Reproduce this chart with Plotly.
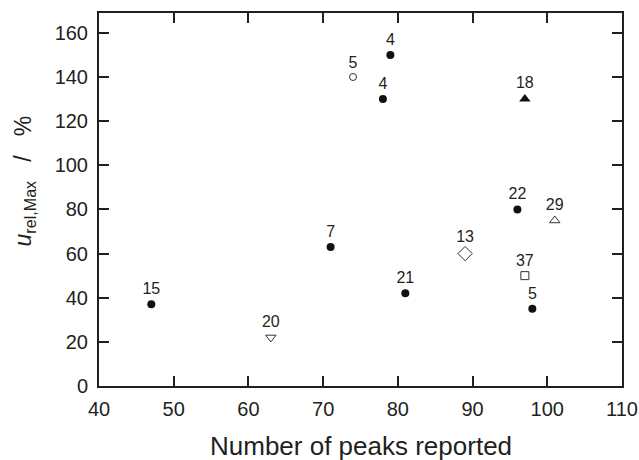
import plotly.graph_objects as go

# Data
filled_circle_x = [47, 71, 78, 79, 81, 96, 98]
filled_circle_y = [37, 63, 130, 150, 42, 80, 35]
filled_circle_lbl = ["15", "7", "4", "4", "21", "22", "5"]

open_circle_x = [74]
open_circle_y = [140]
open_circle_lbl = ["5"]

tri_down_open_x = [63]
tri_down_open_y = [22]
tri_down_open_lbl = ["20"]

diamond_open_x = [89]
diamond_open_y = [60]
diamond_open_lbl = ["13"]

square_open_x = [97]
square_open_y = [50]
square_open_lbl = ["37"]

tri_up_filled_x = [97]
tri_up_filled_y = [130]
tri_up_filled_lbl = ["18"]

tri_up_open_x = [101]
tri_up_open_y = [75]
tri_up_open_lbl = ["29"]

x_ticks = [40, 50, 60, 70, 80, 90, 100, 110]
y_ticks = [0, 20, 40, 60, 80, 100, 120, 140, 160]

TXT = "#231f20"
FONT = "Liberation Sans, Arial, sans-serif"

fig = go.Figure()

def add(xs, ys, lbls, symbol, size, color, line_color, line_w=1):
    fig.add_trace(go.Scatter(
        x=xs, y=ys, text=lbls, mode="markers+text",
        textposition="top center",
        textfont=dict(size=16, color=TXT, family=FONT),
        marker=dict(symbol=symbol, size=size, color=color,
                    line=dict(color=line_color, width=line_w)),
        showlegend=False, cliponaxis=False, hoverinfo="x+y",
    ))

add(filled_circle_x, filled_circle_y, filled_circle_lbl, "circle", 8, "#111", "#111", 0)
add(open_circle_x, open_circle_y, open_circle_lbl, "circle-open", 7, "#333", "#333", 1)
add(tri_down_open_x, tri_down_open_y, tri_down_open_lbl, "triangle-down-open", 9, "#333", "#333", 1)
add(diamond_open_x, diamond_open_y, diamond_open_lbl, "diamond-open", 11, "#333", "#333", 1)
add(square_open_x, square_open_y, square_open_lbl, "square-open", 8, "#333", "#333", 1)
add(tri_up_filled_x, tri_up_filled_y, tri_up_filled_lbl, "triangle-up", 10, "#111", "#111", 0)
add(tri_up_open_x, tri_up_open_y, tri_up_open_lbl, "triangle-up-open", 9, "#333", "#333", 1)

axis_common = dict(
    showline=True, linecolor="#231f20", linewidth=2, mirror="ticks",
    ticks="inside", ticklen=10, tickwidth=1.5, tickcolor="#231f20",
    showgrid=False, zeroline=False, automargin=False,
    tickfont=dict(size=20, color=TXT, family=FONT),
)

fig.update_xaxes(range=[40, 110], tickvals=x_ticks, ticklabelstandoff=4, **axis_common)
fig.update_yaxes(range=[0, 169], tickvals=y_ticks, ticklabelstandoff=5, **axis_common)

fig.add_annotation(
    xref="paper", yref="paper", x=-0.143, y=0.549, xanchor="center", yanchor="middle",
    text="<i>u</i><sub>rel,Max</sub>   /   %", textangle=-90, showarrow=False,
    font=dict(size=23, color=TXT, family=FONT),
)
fig.add_annotation(
    xref="paper", yref="paper", x=0.5, y=-0.116, xanchor="center", yanchor="top",
    text="Number of peaks reported", showarrow=False,
    font=dict(size=26, color=TXT, family=FONT),
)

fig.update_layout(
    width=639, height=460,
    margin=dict(l=99, r=17, t=13, b=74),
    paper_bgcolor="white", plot_bgcolor="white",
)

fig.write_html("out.html", config={"displayModeBar": False},
               post_script="document.body.style.margin='0';")
